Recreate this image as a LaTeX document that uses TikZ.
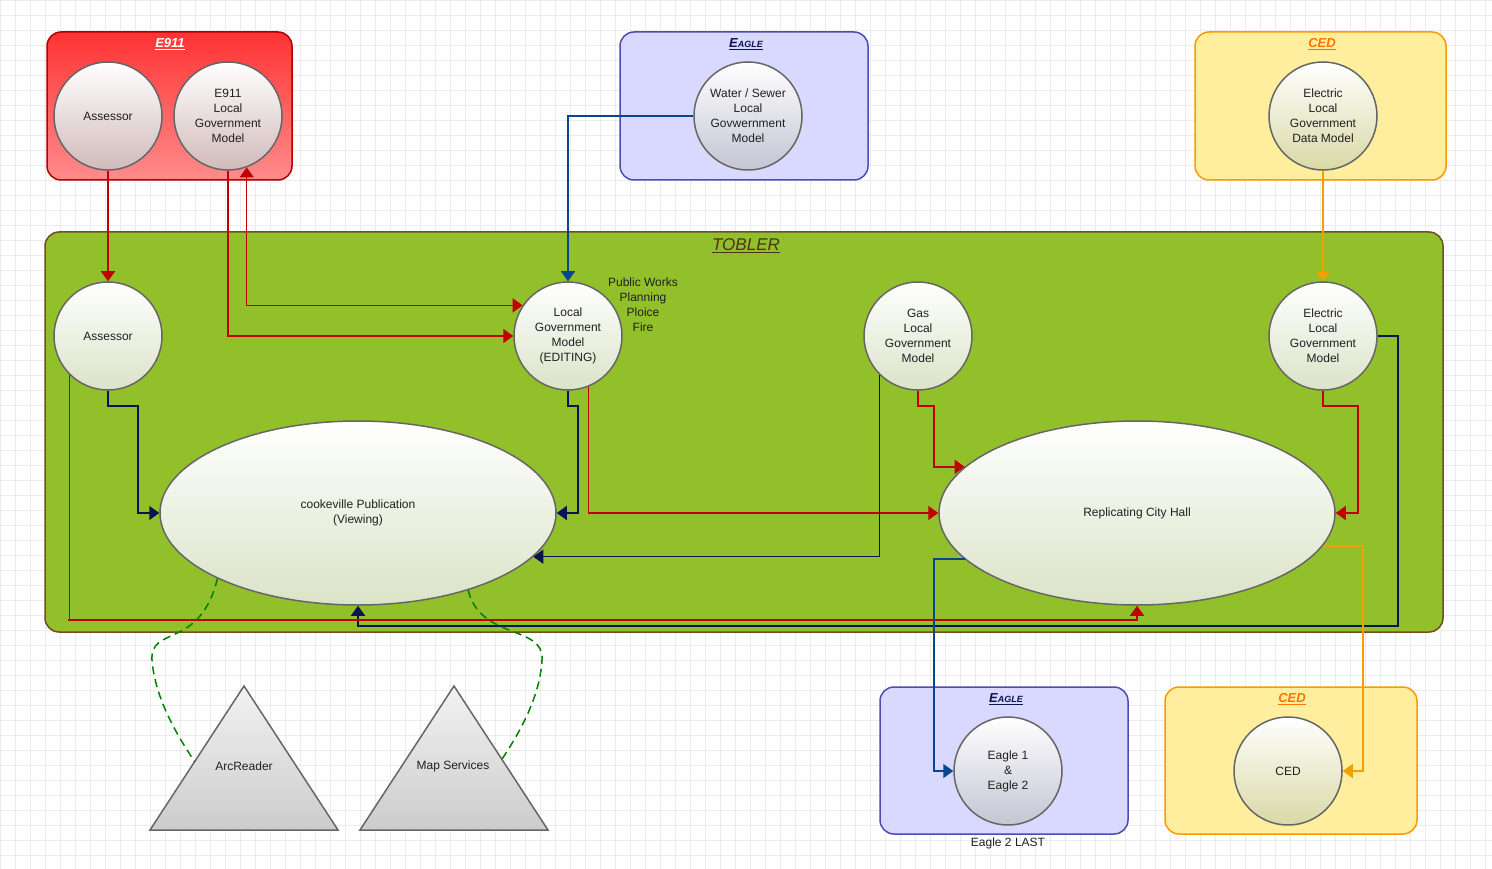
\documentclass[tikz,border=0pt]{standalone}
\usepackage{fontspec}
\setmainfont{Liberation Sans}
\usetikzlibrary{shapes.geometric,arrows.meta}
\definecolor{txt}{HTML}{202020}
\definecolor{navy}{HTML}{0A1450}
\definecolor{dred}{HTML}{C00000}
\definecolor{lblue}{HTML}{0A4690}
\definecolor{orng}{HTML}{F0A000}
\definecolor{grn}{HTML}{92C02A}
\tikzset{
  grp/.style={draw, rounded corners=14pt, line width=1.5pt, inner sep=0pt},
  ttl/.style={font=\bfseries\itshape\fontsize{13}{13}\selectfont},
  unit/.style={circle, draw=black!60, line width=1.5pt, minimum size=108pt,
    top color=white, bottom color=black!25!grn!25, text=txt, align=center,
    font=\fontsize{12}{15}\selectfont, inner sep=0pt},
  red unit/.style={unit, bottom color=red!20!gray!45},
  pub/.style={ellipse, draw=black!60, line width=1.5pt, minimum width=396pt,
    minimum height=184pt, top color=white, bottom color=black!25!grn!25,
    text=txt, align=center, font=\fontsize{12}{15}\selectfont},
  tool/.style={draw=black!60, line width=1.5pt, top color=white!90!gray, bottom color=gray!40},
  lbl/.style={text=txt, align=center, font=\fontsize{12}{15}\selectfont},
  link/.style={line width=1.5pt, -{Triangle[width=14pt,length=10pt]}},
  web/.style={line width=1.5pt, dashed, dash pattern=on 8pt off 5pt, green!50!black}
}
\begin{document}
\begin{tikzpicture}[x=1pt,y=-1pt]
\useasboundingbox (0,0) rectangle (1492,869);
\foreach \g in {0,15,...,1490} \draw[black!8] (\g,0) -- (\g,869);
\foreach \g in {0,15,...,865} \draw[black!8] (0,\g) -- (1492,\g);

% groups
\node[grp, draw=red!70!black, top color=red!80, bottom color=red!45, minimum width=245pt, minimum height=148pt] (e911) at (169.5,106) {};
\node[ttl, text=white] at (170,44) {\underline{E911}};
\node[grp, draw=blue!40!gray, fill=blue!15, minimum width=248pt, minimum height=148pt] (eagle) at (744,106) {};
\node[ttl, text=navy] at (746,44) {\underline{E{\fontsize{9}{9}\selectfont AGLE}}};
\node[grp, draw=orange!80!yellow, fill=yellow!30!white!90!orange, minimum width=251pt, minimum height=148pt] (ced) at (1320.5,106) {};
\node[ttl, text=orange!90!red] at (1322,44) {\underline{CED}};
\node[grp, draw=brown!60!black, fill=grn, minimum width=1398pt, minimum height=400pt] (tobler) at (744,432) {};
\node[font=\itshape\fontsize{17}{17}\selectfont, text=brown!40!black] at (746,246) {\underline{TOBLER}};
\node[grp, draw=blue!40!gray, fill=blue!15, minimum width=248pt, minimum height=147pt] (eagleb) at (1004,760.5) {};
\node[ttl, text=navy] at (1006,699) {\underline{E{\fontsize{9}{9}\selectfont AGLE}}};
\node[grp, draw=orange!80!yellow, fill=yellow!30!white!90!orange, minimum width=252pt, minimum height=147pt] (cedb) at (1291,760.5) {};
\node[ttl, text=orange!90!red] at (1292,699) {\underline{CED}};

% units
\node[red unit] (asr) at (108,116) {Assessor};
\node[red unit] (elgm) at (228,116) {E911\\Local\\Government\\Model};
\node[unit, bottom color=blue!15!gray!40] (water) at (748,116) {Water / Sewer\\Local\\Govwernment\\Model};
\node[unit, bottom color=yellow!40!gray!50] (edm) at (1323,116) {Electric\\Local\\Government\\Data Model};
\node[unit] (tasr) at (108,336) {Assessor};
\node[unit] (lgm) at (568,336) {Local\\Government\\Model\\(EDITING)};
\node[lbl] (depts) at (643,305) {Public Works\\Planning\\Ploice\\Fire};
\node[unit] (gas) at (918,336) {Gas\\Local\\Government\\Model};
\node[unit] (elec) at (1323,336) {Electric\\Local\\Government\\Model};
\node[pub] (cook) at (358,513) {cookeville Publication\\(Viewing)};
\node[pub] (repl) at (1137,513) {Replicating City Hall};
\node[unit, bottom color=blue!15!gray!40] (eg) at (1008,771) {Eagle 1\\\&\\Eagle 2};
\node[lbl] (last) at (1008,843) {Eagle 2 LAST};
\node[unit, bottom color=yellow!40!gray!50] (cedu) at (1288,771) {CED};

% tools
\draw[tool] (244,686) coordinate (arcT) -- (338,830) -- (150,830) -- cycle;
\node[lbl] (arc) at (244,766) {ArcReader};
\draw[tool] (454,686) coordinate (mapT) -- (548,830) -- (360,830) -- cycle;
\node[lbl] (map) at (453,766) {Map Services};

% links
\draw[link, dred] (asr.south) -- (tasr.north);
\draw[link, dred] (elgm.south) |- (lgm.west);
\draw[link, dred, {Triangle[width=14pt,length=10pt]}-{Triangle[width=14pt,length=10pt]}] (elgm.-70) |- (lgm.146);
\draw[link, lblue] (water.west) -| (lgm.north);
\draw[link, orng] (edm.south) -- (elec.north);
\draw[link, navy] (tasr.south) |- (138,406) |- (cook.west);
\draw[link, navy] (lgm.south) |- (578,406) |- (cook.east);
\draw[link, dred] (lgm.-68) |- (repl.west);
\draw[link, navy] (gas.225) |- (cook.-14);
\draw[link, dred] (gas.south) |- (934,406) |- (repl.165);
\draw[link, dred] (elec.south) |- (1358,406) |- (repl.east);
\draw[link, navy] (elec.east) -| (1398,626) -| (cook.south);
\draw[link, dred] (tasr.225) |- (68,620) -| (repl.south);
\draw[link, orng] (repl.-10) -| (1363,771) -- (cedu.east);
\draw[link, lblue] (repl.195) -| (934,771) -- (eg.west);
\draw[web] (cook.205) .. controls (200,650) and (150,625) .. (152,660) .. controls (155,700) and (180,740) .. (195,762);
\draw[web] (cook.-35) .. controls (480,640) and (545,625) .. (542,660) .. controls (540,700) and (515,740) .. (500,762);
\end{tikzpicture}
\end{document}
